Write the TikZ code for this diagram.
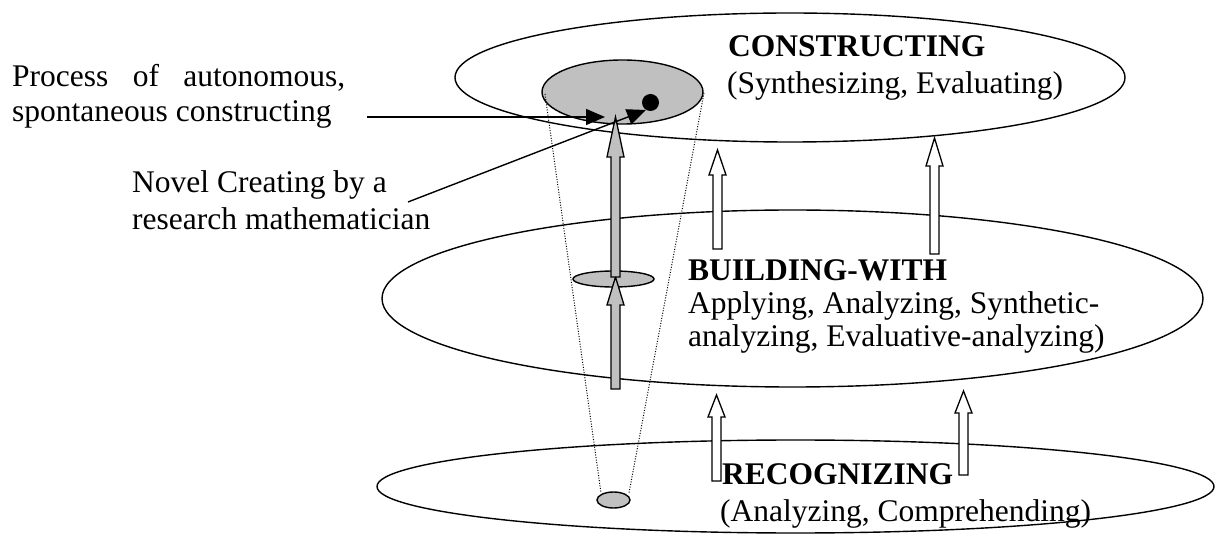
\documentclass[tikz,border=0pt]{standalone}
\usepackage{fontspec}
\setmainfont{Liberation Serif}
\usetikzlibrary{shapes.geometric,arrows.meta,calc}
\definecolor{shade}{RGB}{192,192,192}
\newcommand{\mkblockarrow}[4]{%
  \draw[blockline, fill=#3] ($(#1)+(-4.5,0)$) -- ($(#2)+(-4.5,#4)$) -- ($(#2)+(-8.5,#4)$) -- (#2)
    -- ($(#2)+(8.5,#4)$) -- ($(#2)+(4.5,#4)$) -- ($(#1)+(4.5,0)$) -- cycle;}
\begin{document}
\begin{tikzpicture}[x=1pt,y=-1pt,
  level/.style={ellipse, draw, line width=1.4pt, inner sep=0pt},
  blob/.style={ellipse, draw, fill=shade, line width=1.4pt, inner sep=0pt},
  txt/.style={anchor=base west, inner sep=0pt, font=\fontsize{31.5}{36}\selectfont},
  ttl/.style={anchor=base west, inner sep=0pt, font=\fontsize{31.5}{36}\selectfont\bfseries},
  blockline/.style={line width=1.3pt, line join=miter},
  conn/.style={line width=1.4pt, -{Triangle[length=19pt,width=16pt]}},
  guide/.style={line width=1pt, dash pattern=on 1pt off 1.6pt}]
\useasboundingbox (0,0) rectangle (1216,534);
% levels
\node[level, minimum width=670pt, minimum height=129pt] (top) at (790,77.5) {};
\node[level, minimum width=821pt, minimum height=177pt] (mid) at (792.5,298.5) {};
\node[level, minimum width=837pt, minimum height=93pt] (bot) at (795.5,486.5) {};
% shaded blobs
\node[blob, minimum width=161pt, minimum height=64pt] (gtop) at (622.5,92) {};
\node[blob, minimum width=81pt, minimum height=16pt] (gmid) at (613.5,279) {};
\node[blob, minimum width=33pt, minimum height=16pt] (gbot) at (613.5,500) {};
% dotted cone
\coordinate (dl1) at (545,94); \coordinate (dl2) at (601,493);
\coordinate (dr1) at (704,93); \coordinate (dr2) at (629,493);
\draw[guide] (dl1) -- (dl2);
\draw[guide] (dr1) -- (dr2);
% gray arrows
\coordinate (g1b) at (615.5,389); \coordinate (g1t) at (615.5,277);
\coordinate (g2b) at (615.5,277); \coordinate (g2t) at (615.5,117);
\mkblockarrow{g1b}{g1t}{shade}{28}
\mkblockarrow{g2b}{g2t}{shade}{40}
% white arrows
\coordinate (w1b) at (717.5,249); \coordinate (w1t) at (717.5,150);
\coordinate (w2b) at (934.5,254); \coordinate (w2t) at (934.5,138);
\coordinate (w3b) at (716.5,481); \coordinate (w3t) at (716.5,395);
\coordinate (w4b) at (963.5,475); \coordinate (w4t) at (963.5,391);
\mkblockarrow{w1b}{w1t}{white}{25}
\mkblockarrow{w2b}{w2t}{white}{28}
\mkblockarrow{w3b}{w3t}{white}{22}
\mkblockarrow{w4b}{w4t}{white}{22}
% dot
\node[circle, fill=black, inner sep=0pt, minimum size=17pt] (dot) at (650.5,102.5) {};
% labels
\node[ttl] (ct) at (728,57) {CONSTRUCTING};
\node[txt] (cs) at (727,94) {(Synthesizing, Evaluating)};
\node[txt] (pa) at (12,87) {\makebox[333pt][s]{Process of autonomous,}};
\node[txt] (pb) at (12,122) {spontaneous constructing};
\node[txt] (na) at (132,193) {Novel Creating by a};
\node[txt] (nb) at (132,230) {research mathematician};
\node[ttl] (bt) at (688,281) {BUILDING-WITH};
\node[txt] (ba) at (688,314) {Applying, Analyzing, Synthetic-};
\node[txt] (bb) at (688,347) {analyzing, Evaluative-analyzing)};
\node[ttl] (rt) at (722,484) {RECOGNIZING};
\node[txt] (rs) at (720,521) {(Analyzing, Comprehending)};
% connectors
\coordinate (p1) at (367,117); \coordinate (p1e) at (605,117);
\coordinate (n1) at (408,202); \coordinate (n1e) at (646,110);
\draw[conn] (p1) -- (p1e);
\draw[conn] (n1) -- (n1e);
\end{tikzpicture}
\end{document}
